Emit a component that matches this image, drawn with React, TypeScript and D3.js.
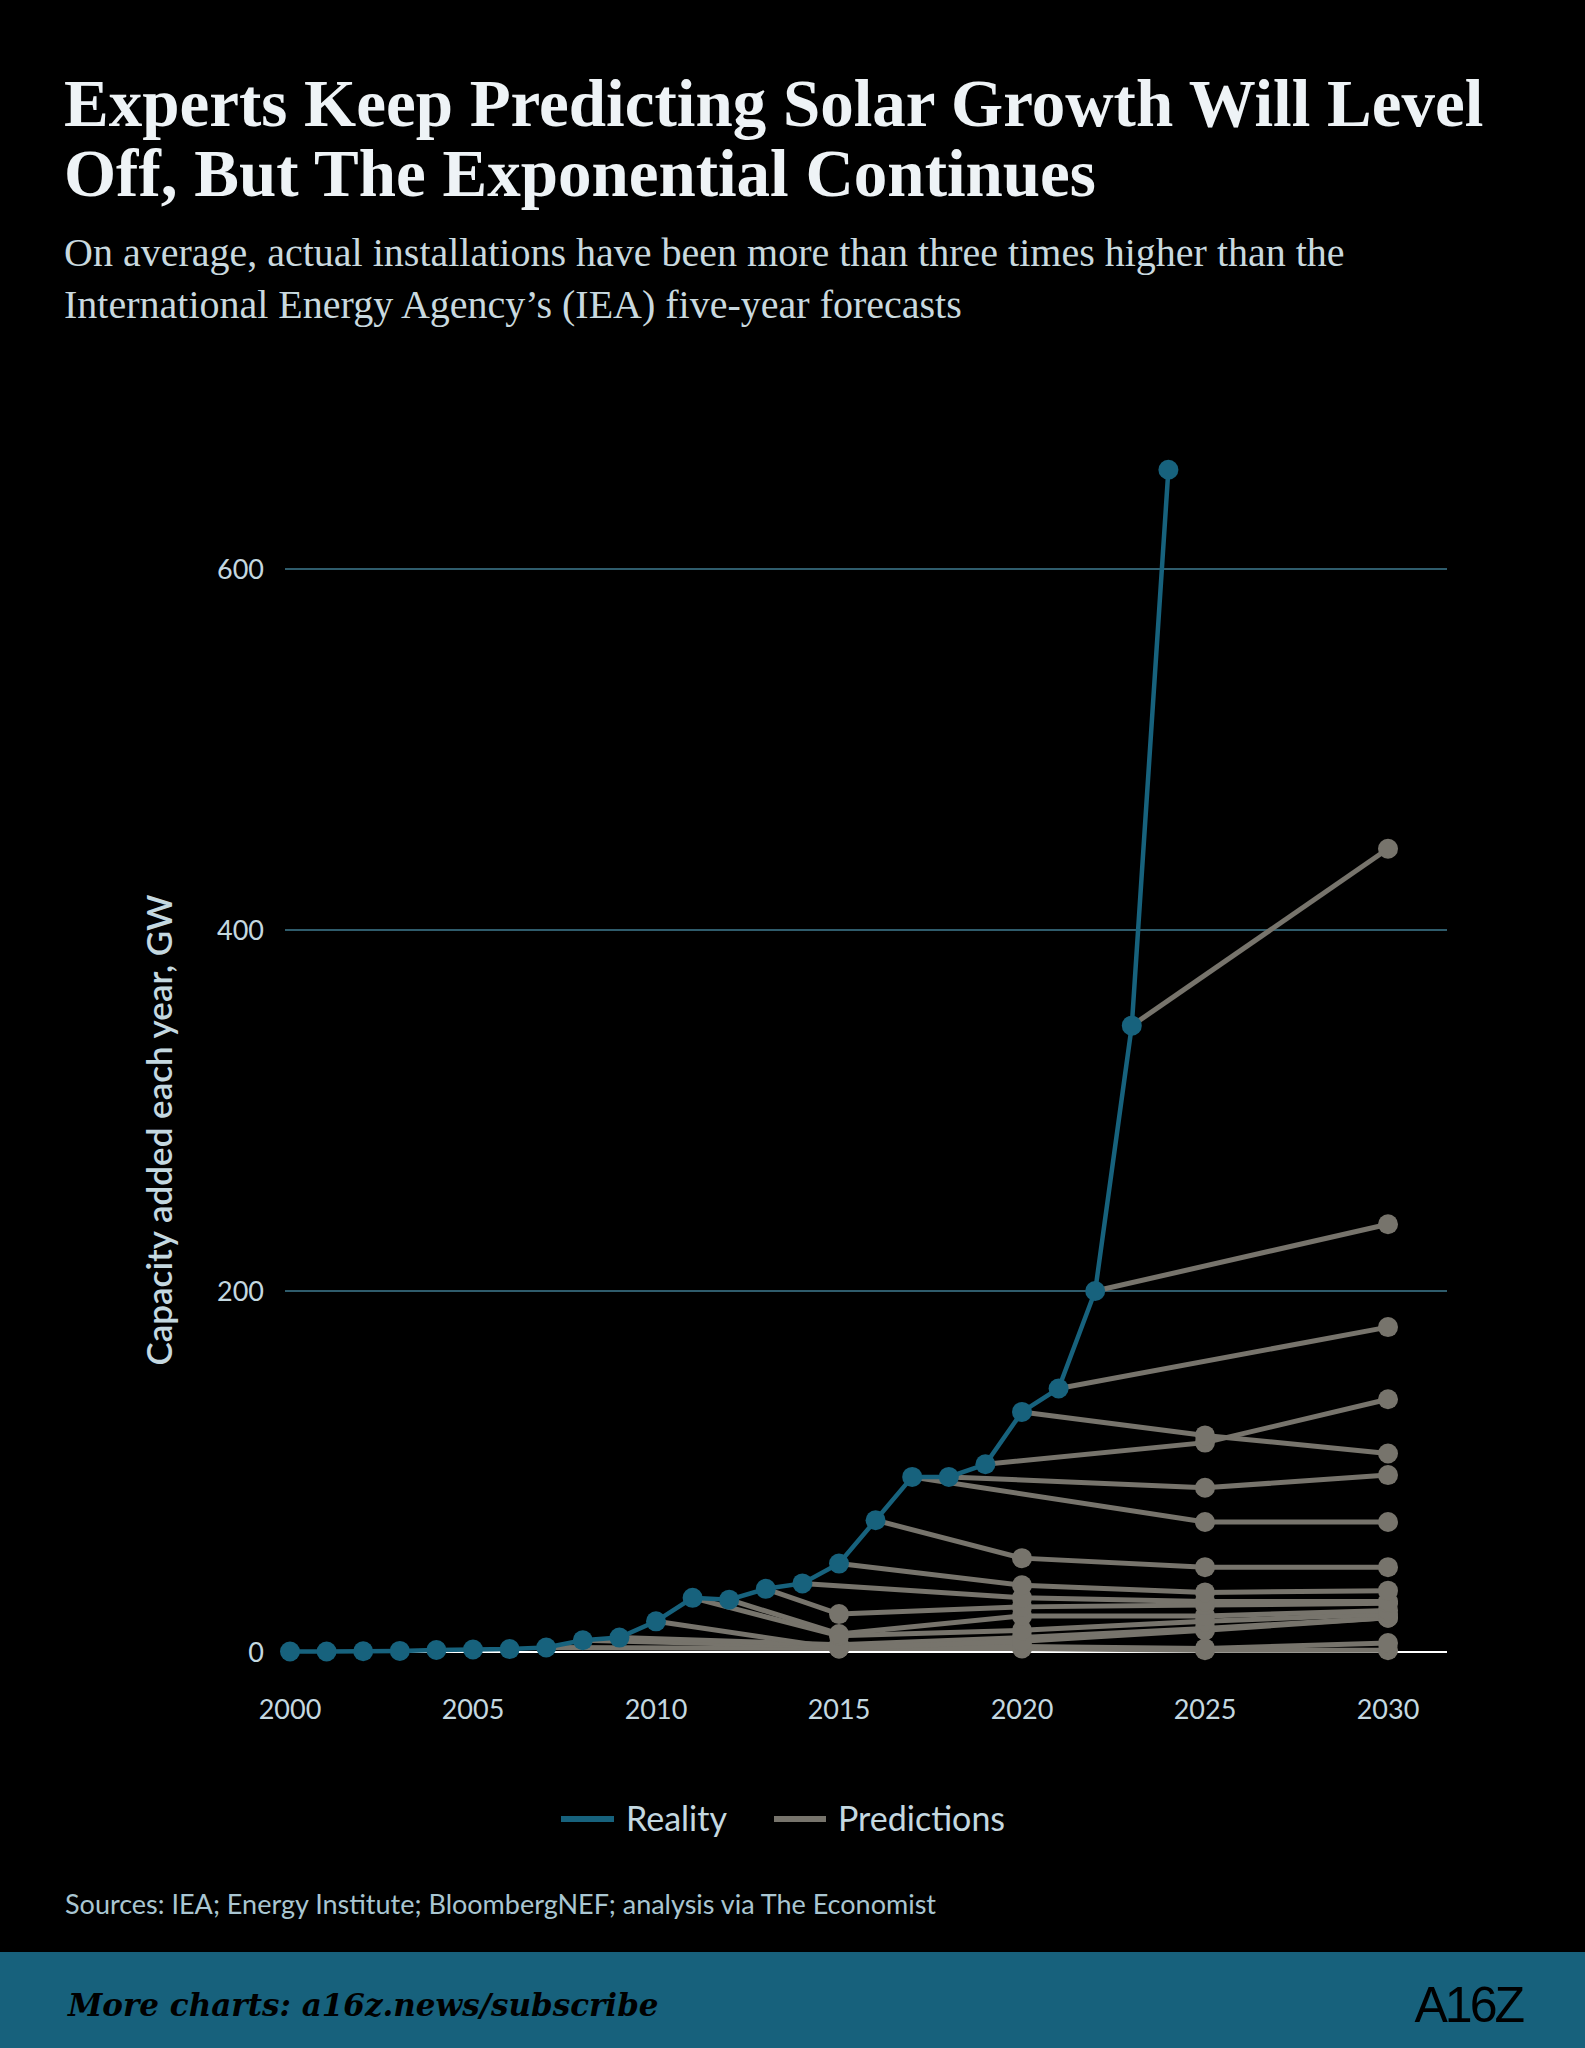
import React, { useEffect, useRef } from 'react';
import * as d3 from 'd3';

const realityYears = [2000, 2001, 2002, 2003, 2004, 2005, 2006, 2007, 2008, 2009, 2010, 2011, 2012, 2013, 2014, 2015, 2016, 2017, 2018, 2019, 2020, 2021, 2022, 2023, 2024];
const realityValues = [0.3, 0.3, 0.4, 0.6, 1.1, 1.4, 1.6, 2.5, 6.5, 8, 17, 30, 29, 35, 38, 49, 73, 97, 97, 104, 133, 146, 200, 347, 655];

// each forecast: [year, GW] pairs, starting from the actual value of its publication year
const forecasts: [number, number][][] = [
  [[2007, 2.5], [2015, 2], [2020, 2], [2025, 1], [2030, 1]],
  [[2008, 6.5], [2015, 3], [2020, 3], [2025, 2], [2030, 5]],
  [[2009, 8], [2015, 4], [2020, 8], [2025, 13], [2030, 19]],
  [[2010, 17], [2015, 2], [2020, 6], [2025, 12], [2030, 19]],
  [[2011, 30], [2015, 9], [2020, 12], [2025, 17], [2030, 21]],
  [[2012, 29], [2015, 10], [2020, 20], [2025, 20], [2030, 23]],
  [[2013, 35], [2015, 21], [2020, 25], [2025, 26], [2030, 27]],
  [[2014, 38], [2020, 30], [2025, 28], [2030, 28]],
  [[2015, 49], [2020, 37], [2025, 33], [2030, 34]],
  [[2016, 73], [2020, 52], [2025, 47], [2030, 47]],
  [[2017, 97], [2025, 72], [2030, 72]],
  [[2018, 97], [2025, 91], [2030, 98]],
  [[2019, 104], [2025, 116], [2030, 140]],
  [[2020, 133], [2025, 120], [2030, 110]],
  [[2021, 146], [2030, 180]],
  [[2022, 200], [2030, 237]],
  [[2023, 347], [2030, 445]],
];

const yTicks = [0, 200, 400, 600];
const xTicks = [2000, 2005, 2010, 2015, 2020, 2025, 2030];

const BLUE = '#17627d';
const GREY = '#77746c';
const LABEL = '#c4d8e0';

const App = () => {
  const ref = useRef<SVGSVGElement>(null);

  useEffect(() => {
    const W = 1585, H = 2048;
    const svg = d3.select(ref.current);
    svg.selectAll('*').remove();
    svg.attr('width', W).attr('height', H);
    svg.append('rect').attr('width', W).attr('height', H).attr('fill', '#000');

    const x = d3.scaleLinear().domain([2000, 2030]).range([290, 1388]);
    const y = d3.scaleLinear().domain([0, 600]).range([1652, 569]);

    // title & subtitle
    const t = svg.append('g').attr('fill', '#eef3f6').attr('font-family', 'Liberation Serif, serif').attr('font-weight', 'bold').attr('font-size', 67);
    t.append('text').attr('x', 64).attr('y', 126).text('Experts Keep Predicting Solar Growth Will Level');
    t.append('text').attr('x', 64).attr('y', 196).text('Off, But The Exponential Continues');
    const s = svg.append('g').attr('fill', '#c9d9df').attr('font-family', 'Liberation Serif, serif').attr('font-size', 40);
    s.append('text').attr('x', 64).attr('y', 266).text('On average, actual installations have been more than three times higher than the');
    s.append('text').attr('x', 64).attr('y', 318).text('International Energy Agency\u2019s (IEA) five-year forecasts');

    // grid
    svg.append('g').selectAll('line').data(yTicks.filter(d => d > 0)).join('line')
      .attr('x1', 285).attr('x2', 1447).attr('y1', d => y(d)).attr('y2', d => y(d))
      .attr('stroke', '#3f7b90').attr('stroke-width', 1.3);
    svg.append('line').attr('x1', 285).attr('x2', 1447).attr('y1', y(0)).attr('y2', y(0))
      .attr('stroke', '#fff').attr('stroke-width', 2);

    svg.append('g').attr('font-family', 'Lato, sans-serif').attr('font-size', 27).attr('fill', LABEL).attr('text-anchor', 'end')
      .selectAll('text').data(yTicks).join('text')
      .attr('x', 264).attr('y', d => y(d) + 10).text(d => d);
    svg.append('g').attr('font-family', 'Lato, sans-serif').attr('font-size', 27).attr('fill', LABEL).attr('text-anchor', 'middle')
      .selectAll('text').data(xTicks).join('text')
      .attr('x', d => x(d)).attr('y', 1719).text(d => d);

    svg.append('text').attr('transform', 'translate(172,1130) rotate(-90)').attr('text-anchor', 'middle')
      .attr('font-family', 'Lato, sans-serif').attr('font-size', 35).attr('font-weight', 600).attr('fill', LABEL)
      .text('Capacity added each year, GW');

    const line = d3.line<[number, number]>().x(d => x(d[0])).y(d => y(d[1]));

    // predictions
    const pg = svg.append('g');
    forecasts.forEach(f => {
      pg.append('path').attr('d', line(f) as string).attr('fill', 'none').attr('stroke', GREY).attr('stroke-width', 5);
    });
    forecasts.forEach(f => {
      pg.selectAll(null).data(f.slice(1)).join('circle')
        .attr('cx', d => x(d[0])).attr('cy', d => y(d[1])).attr('r', 10).attr('fill', GREY);
    });

    // reality
    const real: [number, number][] = realityYears.map((yr, i) => [yr, realityValues[i]]);
    svg.append('path').attr('d', line(real) as string).attr('fill', 'none').attr('stroke', BLUE).attr('stroke-width', 4.5);
    svg.append('g').selectAll('circle').data(real).join('circle')
      .attr('cx', d => x(d[0])).attr('cy', d => y(d[1])).attr('r', 10).attr('fill', BLUE);

    // legend
    const lg = svg.append('g').attr('font-family', 'Lato, sans-serif').attr('font-size', 34).attr('fill', LABEL);
    lg.append('line').attr('x1', 561).attr('x2', 614).attr('y1', 1819).attr('y2', 1819).attr('stroke', BLUE).attr('stroke-width', 6);
    lg.append('text').attr('x', 626).attr('y', 1831).text('Reality');
    lg.append('line').attr('x1', 774).attr('x2', 826).attr('y1', 1819).attr('y2', 1819).attr('stroke', GREY).attr('stroke-width', 6);
    lg.append('text').attr('x', 838).attr('y', 1831).text('Predictions');

    svg.append('text').attr('x', 65).attr('y', 1914).attr('font-family', 'Lato, sans-serif').attr('font-size', 27).attr('fill', '#a9c6d2')
      .text('Sources: IEA; Energy Institute; BloombergNEF; analysis via The Economist');

    // footer
    svg.append('rect').attr('x', 0).attr('y', 1952).attr('width', W).attr('height', 96).attr('fill', '#17617c');
    svg.append('text').attr('x', 68).attr('y', 2016).attr('font-family', 'DejaVu Serif, serif').attr('font-style', 'italic').attr('font-weight', 'bold')
      .attr('font-size', 31).attr('fill', '#000').text('More charts: a16z.news/subscribe');
    svg.append('text').attr('x', 1522).attr('y', 2022).attr('text-anchor', 'end').attr('font-family', 'Liberation Sans Narrow, Liberation Sans, sans-serif')
      .attr('font-size', 50).attr('fill', '#000').attr('letter-spacing', -3).text('A16Z');
  }, []);

  return <svg ref={ref} style={{ position: 'absolute', left: 0, top: 0, display: 'block' }}></svg>;
};

export default App;
